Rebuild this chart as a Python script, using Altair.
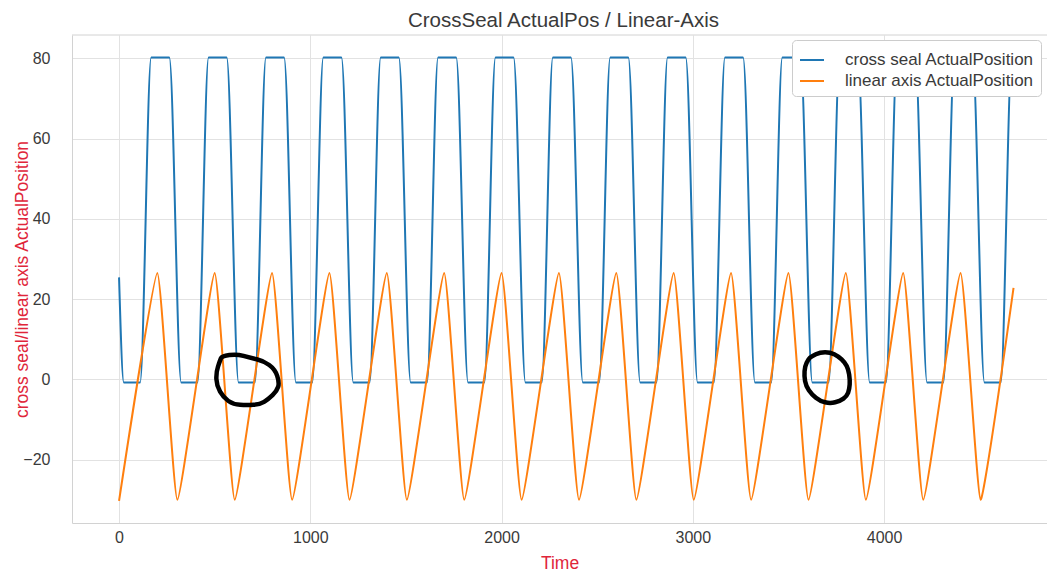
import altair as alt
import pandas as pd

TITLE = "CrossSeal ActualPos / Linear-Axis"
X_TITLE = "Time"
Y_TITLE = "cross seal/linear axis ActualPosition"
SERIES = ["cross seal ActualPosition", "linear axis ActualPosition"]
COLORS = ["#1f77b4", "#ff7f0e"]

# cross seal ActualPosition: corner points
seal_time = [0, 25, 110, 168, 263, 325, 410, 468, 563, 625, 710, 768, 863,
             925, 1010, 1068, 1163, 1225, 1310, 1368, 1463, 1525, 1610, 1668, 1763,
             1825, 1910, 1968, 2063, 2125, 2210, 2268, 2363, 2425, 2510, 2568, 2663,
             2725, 2810, 2868, 2963, 3025, 3110, 3168, 3263, 3325, 3410, 3468, 3563,
             3625, 3710, 3768, 3863, 3925, 4010, 4068, 4163, 4225, 4310, 4368, 4463,
             4525, 4610, 4668, 4680]
seal_pos = [25.4, -0.8, -0.8, 80.2, 80.2, -0.8, -0.8, 80.2, 80.2, -0.8, -0.8, 80.2, 80.2,
            -0.8, -0.8, 80.2, 80.2, -0.8, -0.8, 80.2, 80.2, -0.8, -0.8, 80.2, 80.2,
            -0.8, -0.8, 80.2, 80.2, -0.8, -0.8, 80.2, 80.2, -0.8, -0.8, 80.2, 80.2,
            -0.8, -0.8, 80.2, 80.2, -0.8, -0.8, 80.2, 80.2, -0.8, -0.8, 80.2, 80.2,
            -0.8, -0.8, 80.2, 80.2, -0.8, -0.8, 80.2, 80.2, -0.8, -0.8, 80.2, 80.2,
            -0.8, -0.8, 80.2, 80.2]

# linear axis ActualPosition: peaks and troughs
lin_time = [0, 200, 305, 500, 605, 800, 905, 1100, 1205, 1400, 1505, 1700, 1805,
            2000, 2105, 2300, 2405, 2600, 2705, 2900, 3005, 3200, 3305, 3500, 3605,
            3800, 3905, 4100, 4205, 4400, 4505, 4677]
lin_pos = [-30.3, 26.5, -30.0, 26.5, -30.0, 26.5, -30.0, 26.5, -30.0, 26.5, -30.0,
           26.5, -30.0, 26.5, -30.0, 26.5, -30.0, 26.5, -30.0, 26.5, -30.0, 26.5,
           -30.0, 26.5, -30.0, 26.5, -30.0, 26.5, -30.0, 26.5, -30.0, 22.8]

# hand-drawn black loops (centres in data units)
loop_time = [673, 3702]
loop_pos = [-0.1, 0.4]
loop1_outline = [(-0.81, -0.74), (-0.34, -0.80), (0.07, -0.69), (0.49, -0.59), (0.85, -0.33),
                 (0.99, 0.09), (0.91, 0.35), (0.64, 0.61), (0.38, 0.77), (-0.03, 0.80),
                 (-0.45, 0.77), (-0.76, 0.56), (-0.97, 0.19), (-0.99, -0.23), (-0.87, -0.59)]
loop2_outline = [(-0.59, -0.83), (-0.27, -0.98), (0.12, -0.98), (0.43, -0.83), (0.69, -0.58),
                 (0.82, -0.32), (0.88, 0.07), (0.86, 0.45), (0.76, 0.71), (0.50, 0.90),
                 (0.12, 0.99), (-0.27, 0.90), (-0.59, 0.64), (-0.81, 0.32), (-0.88, -0.06),
                 (-0.85, -0.45), (-0.72, -0.71)]

X_DOMAIN = [-246, 4852]
Y_DOMAIN = [-35.8, 85.8]
FONT = "Liberation Sans"
RED = "#e0253a"
TXT = "#3a3a3a"
FRAME = "#d2d2d2"


def smooth_path(pts):
    n = len(pts)
    mids = [((pts[i][0] + pts[(i + 1) % n][0]) / 2, (pts[i][1] + pts[(i + 1) % n][1]) / 2)
            for i in range(n)]
    d = f"M{mids[-1][0]:.3f},{mids[-1][1]:.3f}"
    for i in range(n):
        d += f" Q{pts[i][0]},{pts[i][1]} {mids[i][0]:.3f},{mids[i][1]:.3f}"
    return d + " Z"


seal_df = pd.DataFrame({"t": seal_time, "pos": seal_pos, "series": SERIES[0]})
lin_df = pd.DataFrame({"t": lin_time, "pos": lin_pos, "series": SERIES[1]})

xscale = alt.Scale(domain=X_DOMAIN, nice=False, zero=False)
yscale = alt.Scale(domain=Y_DOMAIN, nice=False, zero=False)
cscale = alt.Scale(domain=SERIES, range=COLORS)

x_enc = alt.X("t:Q", scale=xscale, title=X_TITLE,
              axis=alt.Axis(values=[0, 1000, 2000, 3000, 4000], format="d",
                            titleY=40, titleBaseline="middle"))
y_enc = alt.Y("pos:Q", scale=yscale, title=Y_TITLE,
              axis=alt.Axis(values=[-20, 0, 20, 40, 60, 80],
                            titleX=-50, titleY=244, titleAngle=270,
                            titleBaseline="middle"))
c_enc = alt.Color("series:N", scale=cscale, legend=alt.Legend(title=None))

seal = alt.Chart(seal_df).mark_line(strokeWidth=2, clip=True,
                                    interpolate="monotone").encode(
    x=x_enc, y=y_enc, color=c_enc, order=alt.Order("t:Q"))

lin = alt.Chart(lin_df).mark_line(strokeWidth=2, clip=True,
                                  interpolate="cardinal", tension=0.6).encode(
    x=x_enc, y=y_enc, color=c_enc, order=alt.Order("t:Q"))

top_frame = alt.Chart(pd.DataFrame({"pos": [Y_DOMAIN[1]]})).mark_rule(
    color=FRAME, strokeWidth=1).encode(
    y=alt.Y("pos:Q", scale=yscale, title=Y_TITLE),
)

loop1 = alt.Chart(pd.DataFrame({"t": [loop_time[0]], "pos": [loop_pos[0]]})).mark_point(
    shape=smooth_path(loop1_outline), size=4096, filled=False, stroke="black",
    strokeWidth=4.5, opacity=1,
).encode(
    x=alt.X("t:Q", scale=xscale, title=X_TITLE),
    y=alt.Y("pos:Q", scale=yscale, title=Y_TITLE),
)

loop2 = alt.Chart(pd.DataFrame({"t": [loop_time[1]], "pos": [loop_pos[1]]})).mark_point(
    shape=smooth_path(loop2_outline), size=2704, filled=False, stroke="black",
    strokeWidth=4.5, opacity=1,
).encode(
    x=alt.X("t:Q", scale=xscale, title=X_TITLE),
    y=alt.Y("pos:Q", scale=yscale, title=Y_TITLE),
)

chart = alt.layer(top_frame, seal, lin, loop1, loop2).properties(
    width=975, height=488,
    title=alt.TitleParams(TITLE, anchor="middle", fontSize=20.5, font=FONT,
                          fontWeight="normal", color=TXT, offset=10, dy=23, dx=4,
                          baseline="alphabetic"),
    padding={"left": 64, "top": 27, "right": 0, "bottom": 48},
    autosize=alt.AutoSizeParams(type="none"),
).configure_view(stroke=None).configure_axis(
    labelFont=FONT, titleFont=FONT, labelFontSize=16, labelColor=TXT,
    titleFontSize=17.5, titleFontWeight="normal", titleColor=RED,
    gridColor="#e2e2e2", gridWidth=1, domainColor=FRAME, domainWidth=1,
    ticks=False, tickSize=0,
).configure_axisY(labelPadding=22).configure_axisX(labelPadding=6).configure_legend(
    orient="none", legendX=720, legendY=5, padding=7, fillColor="white",
    strokeColor="#cccccc", cornerRadius=4, symbolType="stroke", symbolSize=576,
    symbolStrokeWidth=2, labelFont=FONT, labelFontSize=17, labelColor=TXT,
    rowPadding=0, labelOffset=20, labelLimit=400,
)

chart.save("out.html", embed_options={"renderer": "svg", "actions": False})
